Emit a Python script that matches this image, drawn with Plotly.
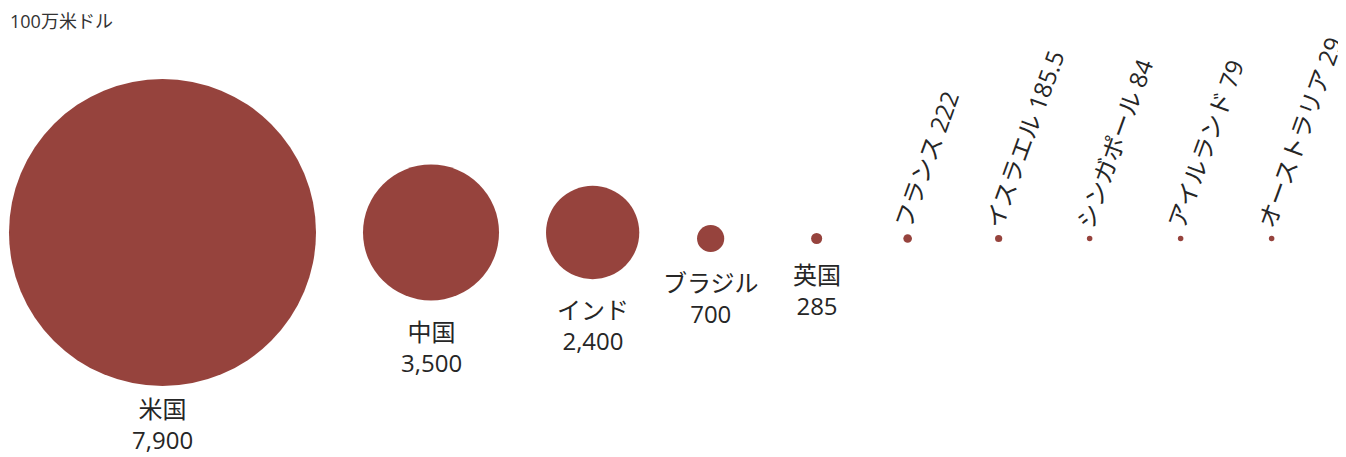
import plotly.graph_objects as go

# ---- data ----
countries = ["米国", "中国", "インド", "ブラジル", "英国",
             "フランス", "イスラエル", "シンガポール", "アイルランド", "オーストラリア"]
values = [7900, 3500, 2400, 700, 285, 222, 185.5, 84, 79, 29]
value_labels = ["7,900", "3,500", "2,400", "700", "285", "222", "185.5", "84", "79", "29"]
unit_label = "100万米ドル"

# ---- style / layout parameters ----
W, H = 1346, 457
PAGE_OFFSET = 8               # default body margin of the html page
COLOR = "#96433d"
TEXT = "#262626"
FONT = "Open Sans, Noto Sans CJK JP, sans-serif"
FS = 24
PX_PER_UNIT = 307 / 7900      # diameter in px per unit value
MIN_D = 5.5
LEFT = 9
GAP = 47
LABEL_GAP = 34
MIN_STEP = 91
ROTATE_BELOW = 250            # values below this get rotated labels

diam = [max(v * PX_PER_UNIT, MIN_D) for v in values]
rad = [d / 2 for d in diam]
rotated = [v < ROTATE_BELOW for v in values]


def label_width(i):
    if rotated[i]:
        return 0
    name_w = len(countries[i]) * FS
    val_w = sum(0.25 if c in ",." else 0.572 for c in value_labels[i]) * FS
    return max(name_w, val_w)


xs = [LEFT + rad[0]]
for i in range(1, len(values)):
    step = max(rad[i - 1] + rad[i] + GAP,
               (label_width(i - 1) + label_width(i)) / 2 + LABEL_GAP,
               MIN_STEP)
    xs.append(xs[-1] + step)

ys = [232.5 if d > 50 else 238.5 for d in diam]

fig = go.Figure()
fig.add_trace(go.Scatter(
    x=xs, y=ys, mode="markers",
    marker=dict(size=diam, sizemode="diameter", color=COLOR, opacity=1,
                line=dict(width=0)),
    hoverinfo="skip", showlegend=False,
))

annotations = []
for i in range(len(values)):
    if not rotated[i]:
        shift = -4 if rad[i] > 100 else -12
        annotations.append(dict(
            x=xs[i], y=ys[i] + rad[i], xref="x", yref="y",
            text=f"{countries[i]}<br>{value_labels[i]}",
            showarrow=False, xanchor="center", yanchor="top", yshift=shift,
            font=dict(family=FONT, size=FS, color=TEXT), align="center",
        ))
    else:
        annotations.append(dict(
            x=xs[i], y=ys[i], xref="x", yref="y",
            text=f"{countries[i]} {value_labels[i]}",
            showarrow=False, xanchor="left", yanchor="bottom",
            xshift=-24, yshift=3.5, textangle=-70,
            font=dict(family=FONT, size=FS, color=TEXT),
        ))

annotations.append(dict(
    x=LEFT, y=PAGE_OFFSET, xref="x", yref="y", text=unit_label, showarrow=False,
    xanchor="left", yanchor="top", borderpad=0,
    font=dict(family=FONT, size=18, color="#333333"),
))

fig.update_layout(
    width=W - PAGE_OFFSET, height=H - PAGE_OFFSET,
    margin=dict(l=0, r=0, t=0, b=0),
    paper_bgcolor="white", plot_bgcolor="white",
    xaxis=dict(range=[PAGE_OFFSET, W], visible=False, fixedrange=True),
    yaxis=dict(range=[H, PAGE_OFFSET], visible=False, fixedrange=True),
    annotations=annotations,
    showlegend=False,
)

fig.write_html("out.html", config={"displayModeBar": False})
